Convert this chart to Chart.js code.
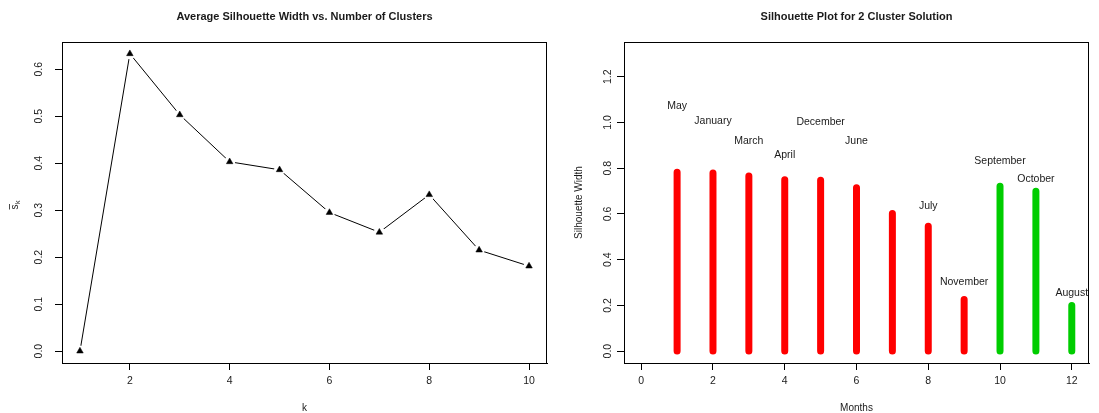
<!DOCTYPE html>
<html><head><meta charset="utf-8">
<script src="https://cdn.jsdelivr.net/npm/chart.js@4/dist/chart.umd.min.js"></script>
<style>
html,body{margin:0;padding:0;background:#fff}
#wrap{position:relative;width:1099px;height:413px}
.pane{position:absolute;top:0;height:413px}
</style></head><body>
<div id="wrap">
 <div class="pane" style="left:0;width:549px"><canvas id="kChart" width="549" height="413"></canvas></div>
 <div class="pane" style="left:549px;width:550px"><canvas id="silChart" width="550" height="413"></canvas></div>
</div>
<script>
// ---- left: average silhouette width by k ----
var kVals=[1,2,3,4,5,6,7,8,9,10];
var avgSil=[0.0,0.633,0.503,0.403,0.386,0.295,0.253,0.333,0.215,0.181];
var kTicksX=[2,4,6,8,10];
var kTicksY=[0,0.1,0.2,0.3,0.4,0.5,0.6];

// ---- right: silhouette widths for the 2 cluster solution ----
var silPos=[1,2,3,4,5,6,7,8,9,10,11,12];
var silWidth=[0.782,0.779,0.766,0.750,0.747,0.715,0.602,0.546,0.226,0.721,0.699,0.200];
var silCluster=[1,1,1,1,1,1,1,1,1,2,2,2];
var monthNames=['May','January','March','April','December','June','July','November','September','October','August'];
var monthX=[1,2,3,4,5,6,8,9,10,11,12];
var monthY=[1.072,1.006,0.919,0.858,1.002,0.919,0.636,0.30,0.832,0.753,0.252];
var silTicksX=[0,2,4,6,8,10,12];
var silTicksY=[0,0.2,0.4,0.6,0.8,1.0,1.2];

var FONT='"Liberation Sans", Arial, Helvetica, sans-serif';
var INK='#1a1a1a';
Chart.defaults.font.family=FONT;
Chart.defaults.animation=false;

function fixTicks(arr){return function(s){s.ticks=arr.map(function(v){return {value:v};});};}

function rFrame(title,xTitle,yLabX,drawY){
 return {id:'rFrame',afterDraw:function(c){
  var ctx=c.ctx, a=c.chartArea, ys=c.scales.y;
  ctx.save();
  ctx.strokeStyle='#000';ctx.lineWidth=1;
  ctx.strokeRect(a.left+0.5,a.top+0.5,a.right-a.left-1,a.bottom-a.top);
  ctx.fillStyle=INK;ctx.textAlign='center';ctx.textBaseline='middle';
  ctx.font='bold 11px '+FONT;
  ctx.fillText(title,(a.left+a.right)/2,17);
  ctx.font='10px '+FONT;
  ctx.fillText(xTitle,(a.left+a.right)/2,408);
  // rotated y tick labels, like R's las=0
  ctx.font='10.5px '+FONT;
  ys.ticks.forEach(function(t){
   var py=ys.getPixelForValue(t.value);
   ctx.save();ctx.translate(yLabX,py);ctx.rotate(-Math.PI/2);
   ctx.fillText(t.value.toFixed(1),0,0);ctx.restore();
  });
  drawY(ctx,(a.top+a.bottom)/2);
  ctx.restore();
 }};
}

function axes(xmin,xmax,ymin,ymax,xt,yt,yw){
 var grid={display:true,drawOnChartArea:false,drawTicks:true,tickLength:7,color:'#000',lineWidth:1};
 return {
  x:{type:'linear',min:xmin,max:xmax,afterBuildTicks:fixTicks(xt),
     afterFit:function(s){s.height=50;s.paddingLeft=0;s.paddingRight=0;},
     grid:grid,border:{display:true,color:'#000'},
     ticks:{font:{size:10.5},color:INK,padding:5,maxRotation:0,callback:function(v){return v;}}},
  y:{type:'linear',min:ymin,max:ymax,afterBuildTicks:fixTicks(yt),
     afterFit:function(s){s.width=yw;s.paddingTop=0;s.paddingBottom=0;},
     grid:grid,border:{display:true,color:'#000'},
     ticks:{color:'rgba(0,0,0,0)',font:{size:10.5}}}
 };
}

// left chart
var kPts=kVals.map(function(k,i){return {x:k,y:avgSil[i]};});
new Chart(document.getElementById('kChart'),{
 type:'line',
 data:{datasets:[
  {data:kPts,borderColor:'#000',borderWidth:1,pointRadius:0,order:3},
  // white halos give the gaps of R's type="b"
  {data:kPts,showLine:false,pointRadius:5.5,pointBackgroundColor:'#fff',pointBorderWidth:0,order:2},
  {data:kPts,showLine:false,pointStyle:'triangle',pointRadius:3.8,pointBackgroundColor:'#000',pointBorderColor:'#000',pointBorderWidth:0.5,order:1}
 ]},
 options:{responsive:false,layout:{autoPadding:false,padding:{top:42,right:2,left:0,bottom:0}},
  plugins:{legend:{display:false},tooltip:{enabled:false}},
  scales:axes(0.64,10.36,-0.0253,0.658,kTicksX,kTicksY,62)},
 plugins:[rFrame('Average Silhouette Width vs. Number of Clusters','k',39.5,function(ctx,cy){
  ctx.save();ctx.translate(15,cy+2);ctx.rotate(-Math.PI/2);
  ctx.textAlign='left';ctx.font='10px '+FONT;
  ctx.fillText('s',-5,0);
  ctx.beginPath();ctx.moveTo(-5,-5.5);ctx.lineTo(0.5,-5.5);ctx.lineWidth=0.8;ctx.strokeStyle=INK;ctx.stroke();
  ctx.font='7px '+FONT;ctx.fillText('k',0.5,3);
  ctx.restore();
 })]
});

// right chart: vertical lines from 0, one dataset per cluster, gaps between months
function clusterData(cl){
 var out=[];
 silPos.forEach(function(p,i){
  if(silCluster[i]!==cl)return;
  out.push({x:p,y:0},{x:p,y:silWidth[i]},{x:p,y:null});
 });
 return out;
}
var monthLabels={id:'monthLabels',afterDatasetsDraw:function(c){
 var ctx=c.ctx,xs=c.scales.x,ys=c.scales.y;
 ctx.save();ctx.fillStyle=INK;ctx.font='10.5px '+FONT;ctx.textAlign='center';ctx.textBaseline='middle';
 monthNames.forEach(function(n,i){ctx.fillText(n,xs.getPixelForValue(monthX[i]),ys.getPixelForValue(monthY[i]));});
 ctx.restore();
}};
new Chart(document.getElementById('silChart'),{
 type:'line',
 data:{datasets:[
  {data:clusterData(1),borderColor:'#ff0000',borderWidth:7,borderCapStyle:'round',pointRadius:0,spanGaps:false},
  {data:clusterData(2),borderColor:'#00cd00',borderWidth:7,borderCapStyle:'round',pointRadius:0,spanGaps:false}
 ]},
 options:{responsive:false,layout:{autoPadding:false,padding:{top:42,right:10,left:0,bottom:0}},
  plugins:{legend:{display:false},tooltip:{enabled:false}},
  scales:axes(-0.48,12.48,-0.052,1.352,silTicksX,silTicksY,75)},
 plugins:[monthLabels,rFrame('Silhouette Plot for 2 Cluster Solution','Months',59,function(ctx,cy){
  ctx.save();ctx.translate(30,cy);ctx.rotate(-Math.PI/2);
  ctx.font='10px '+FONT;ctx.fillText('Silhouette Width',0,0);ctx.restore();
 })]
});
</script>
</body></html>
